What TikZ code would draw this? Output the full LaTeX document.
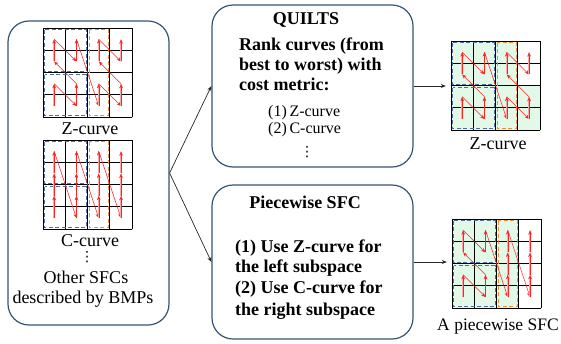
\documentclass[tikz,border=0pt]{standalone}
\usepackage{fontspec}
\setmainfont{Liberation Serif}
\newfontfamily\symfont{DejaVu Sans}
\usetikzlibrary{arrows.meta}
\definecolor{boxc}{RGB}{52,84,115}
\definecolor{bluedash}{RGB}{75,110,165}
\definecolor{orangedash}{RGB}{240,140,60}
\definecolor{greenfill}{RGB}{226,249,232}
\definecolor{curvered}{RGB}{255,35,35}
\definecolor{curvepink}{RGB}{255,165,165}
\def\cs{22.3}
\tikzset{
  gridline/.style={line width=0.9pt, black},
  bluedashed/.style={draw=bluedash, line width=1.2pt, dash pattern=on 4pt off 2.5pt},
  orangedashed/.style={draw=orangedash, line width=1.2pt, dash pattern=on 4pt off 2.5pt},
  vshadow/.style={draw=curvepink, line width=1.9pt, shorten >=3.5pt},
  vseg/.style={draw=curvered, line width=0.35pt, -{Stealth[length=4.5pt,width=3.6pt]}},
  dseg/.style={draw=curvered, line width=0.55pt, -{Stealth[length=4.5pt,width=3.6pt]}},
  bigbox/.style={draw=boxc, line width=1.2pt, rounded corners=21pt, rectangle, inner sep=0pt},
  flow/.style={draw=black!85, line width=0.7pt, -{Stealth[length=5pt,width=4pt]}},
  lbl/.style={font=\fontsize{18}{20}\selectfont, inner sep=0pt, anchor=base},
  bld/.style={font=\fontsize{18}{20}\selectfont\bfseries, inner sep=0pt, anchor=base west},
  sml/.style={font=\fontsize{16}{18}\selectfont, inner sep=0pt, anchor=base west},
  dots/.style={font=\fontsize{14}{15}\selectfont\symfont, inner sep=0pt},
  gridnode/.style={minimum width=89.2pt, minimum height=89.2pt, inner sep=0pt}
}
\newcommand\gridlines[2]{%
  \foreach \i in {0,...,4} {
    \draw[gridline] ({#1+\i*\cs},{#2}) -- ({#1+\i*\cs},{#2+4*\cs});
    \draw[gridline] ({#1},{#2+\i*\cs}) -- ({#1+4*\cs},{#2+\i*\cs});
  }}
\newcommand\dashrects[2]{%
  \draw[bluedashed] ({#1+1.5},{#2+1.5}) rectangle ({#1+2*\cs-1.5},{#2+2*\cs-1});
  \draw[bluedashed] ({#1+1.5},{#2+2*\cs+2}) rectangle ({#1+2*\cs-1.5},{#2+4*\cs-1.5});
  \draw[orangedashed] ({#1+2*\cs+1.5},{#2+1.5}) rectangle ({#1+3*\cs-1.5},{#2+4*\cs-1.5});
}
\newcommand\sfcurve[3]{%
  \foreach \cc/\rr [remember=\cc as \pc (initially 0), remember=\rr as \pr (initially 0)] in #3 {
    \ifnum\cc=\pc
      \draw[vshadow] ({#1+(\pc+0.5)*\cs},{#2+(3.5-\pr)*\cs}) -- ({#1+(\cc+0.5)*\cs},{#2+(3.5-\rr)*\cs});
      \draw[vseg] ({#1+(\pc+0.5)*\cs},{#2+(3.5-\pr)*\cs}) -- ({#1+(\cc+0.5)*\cs},{#2+(3.5-\rr)*\cs});
    \else
      \draw[dseg] ({#1+(\pc+0.5)*\cs},{#2+(3.5-\pr)*\cs}) -- ({#1+(\cc+0.5)*\cs},{#2+(3.5-\rr)*\cs});
    \fi
  }}
\def\zlist{0/1,1/0,1/1,0/2,0/3,1/2,1/3,2/0,2/1,3/0,3/1,2/2,2/3,3/2,3/3}
\def\clist{0/1,0/2,0/3,1/0,1/1,1/2,1/3,2/0,2/1,2/2,2/3,3/0,3/1,3/2,3/3}
\def\plist{0/1,1/0,1/1,0/2,0/3,1/2,1/3,2/0,2/1,2/2,2/3,3/0,3/1,3/2,3/3}
\begin{document}
\begin{tikzpicture}[x=1pt,y=-1pt]
\useasboundingbox (0,0) rectangle (561,343);

% main boxes
\node[bigbox, minimum width=161pt, minimum height=304pt] (L) at (88.5,173) {};
\node[bigbox, minimum width=201pt, minimum height=162pt] (Q) at (312.5,86) {};
\node[bigbox, minimum width=201pt, minimum height=154pt] (P) at (312.5,262) {};

% grid placeholder nodes (right)
\node[gridnode] (G1) at ({451+2*\cs},{41+2*\cs}) {};
\node[gridnode] (G2) at ({452+2*\cs},{219+2*\cs}) {};

% left grids
\gridlines{43}{28}
\dashrects{43}{28}
\sfcurve{43}{28}{\zlist}
\gridlines{43}{140}
\dashrects{43}{140}
\sfcurve{43}{140}{\clist}

% right grids
\fill[greenfill] (451,41) rectangle ({451+3*\cs},{41+4*\cs});
\fill[greenfill] ({451+3*\cs},{41+2*\cs}) rectangle ({451+4*\cs},{41+4*\cs});
\gridlines{451}{41}
\dashrects{451}{41}
\sfcurve{451}{41}{\zlist}
\fill[greenfill] (452,219) rectangle ({452+3*\cs},{219+4*\cs});
\gridlines{452}{219}
\dashrects{452}{219}
\sfcurve{452}{219}{\plist}

% left labels
\node[lbl] (tz) at (90,134) {Z-curve};
\node[lbl] (tc) at (90,246) {C-curve};
\node[dots] (td) at (87,257) {⋮};
\node[lbl] (to) at (86,283) {Other SFCs};
\node[lbl] (tb) at (83,303) {described by BMPs};

% QUILTS box text
\node[lbl, font=\fontsize{18}{20}\selectfont\bfseries] (q0) at (306,24) {QUILTS};
\node[bld] (q1) at (239,50) {Rank curves (from};
\node[bld] (q2) at (239,70) {best to worst) with};
\node[bld] (q3) at (239,90) {cost metric:};
\node[sml] (q4) at (268,116) {(1)\,Z-curve};
\node[sml] (q5) at (268,133) {(2)\,C-curve};
\node[dots] (q6) at (307,152) {⋮};

% Piecewise box text
\node[lbl, font=\fontsize{18}{20}\selectfont\bfseries] (p0) at (305,208) {Piecewise SFC};
\node[bld] (p1) at (235,252) {(1) Use Z-curve for};
\node[bld] (p2) at (235,272) {the left subspace};
\node[bld] (p3) at (235,293) {(2) Use C-curve for};
\node[bld] (p4) at (235,315) {the right subspace};

% right labels
\node[lbl] (rz) at (498,149) {Z-curve};
\node[lbl, font=\fontsize{17.5}{20}\selectfont] (rp) at (498,330) {A piecewise SFC};

% connectors
\draw[flow] (L.east) -- (Q.west);
\draw[flow] (L.east) -- (P.west);
\draw[flow, shorten >=5pt] (Q.east) -- (Q.east -| G1.west);
\draw[flow, shorten >=5pt] (P.east) -- (P.east -| G2.west);
\end{tikzpicture}
\end{document}
